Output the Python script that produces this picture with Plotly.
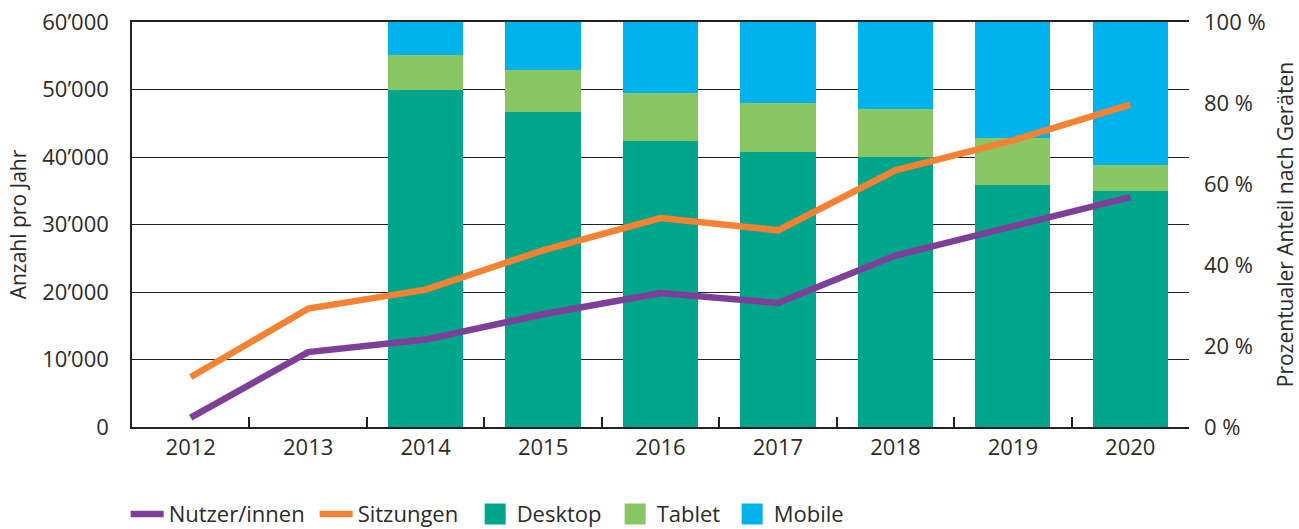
import plotly.graph_objects as go

years = ["2012", "2013", "2014", "2015", "2016", "2017", "2018", "2019", "2020"]
bar_years = ["2014", "2015", "2016", "2017", "2018", "2019", "2020"]
desktop = [83.2, 77.9, 70.5, 67.8, 66.7, 59.7, 58.2]
tablet = [8.6, 10.2, 11.9, 12.1, 11.8, 11.7, 6.4]
mobile = [8.2, 11.9, 17.6, 20.1, 21.5, 28.6, 35.4]
nutzer = [1400, 11100, 12950, 16700, 19850, 18370, 25400, 29630, 34070]
sitzungen = [7400, 17540, 20350, 26180, 30960, 29140, 38030, 42470, 47760]

left_ticks = [0, 10000, 20000, 30000, 40000, 50000, 60000]
left_text = ["0", "10’000", "20’000", "30’000", "40’000", "50’000", "60’000"]
right_ticks = [0, 20, 40, 60, 80, 100]
right_text = ["0 %", "20 %", "40 %", "60 %", "80 %", "100 %"]

FONT = "Open Sans, sans-serif"
TXT = "#2b2b2b"
GRID = "#222222"
FS = 22

C_NUTZER = "#7E3F98"
C_SITZ = "#F58233"
C_DESK = "#00A68C"
C_TAB = "#89C765"
C_MOB = "#00B2EC"

fig = go.Figure()
fig.add_trace(go.Scatter(x=years, y=nutzer, name="Nutzer/innen", mode="lines", legendwidth=141,
                         line=dict(color=C_NUTZER, width=6.5), yaxis="y2"))
fig.add_trace(go.Scatter(x=years, y=sitzungen, name="Sitzungen", mode="lines", legendwidth=111,
                         line=dict(color=C_SITZ, width=6.5), yaxis="y2"))
legend_widths = {"Desktop": 92, "Tablet": 69, "Mobile": 75}
for name, vals, col in [("Desktop", desktop, C_DESK), ("Tablet", tablet, C_TAB), ("Mobile", mobile, C_MOB)]:
    fig.add_trace(go.Bar(x=bar_years, y=vals, name=name, legendgroup=name, showlegend=False,
                         marker=dict(color=col, line=dict(width=0))))
    # legend entry with a larger square swatch
    fig.add_trace(go.Scatter(x=[None], y=[None], mode="markers", name=name, legendgroup=name,
                             legendwidth=legend_widths[name],
                             marker=dict(symbol="square", size=16, color=col, line=dict(color=col, width=5))))

fig.update_layout(
    width=1299, height=529,
    margin=dict(l=132, r=110, t=22, b=102, autoexpand=False),
    paper_bgcolor="white", plot_bgcolor="white",
    barmode="stack", bargap=0.36,
    font=dict(family=FONT, size=FS, color=TXT),
    showlegend=True,
    legend=dict(orientation="h", x=-0.006, xanchor="left", y=-0.215, yanchor="middle",
                font=dict(size=22, color=TXT), traceorder="normal",
                itemwidth=33, tracegroupgap=0),
    xaxis=dict(type="category", categoryorder="array", categoryarray=years,
               range=[-0.5, 8.5], showline=True, mirror=True, linecolor=GRID, linewidth=1.5,
               ticks="inside", tickson="boundaries", ticklen=10, tickcolor=GRID, tickwidth=1.5,
               showgrid=False, automargin=False, tickfont=dict(size=FS, color=TXT), ticklabelstandoff=0),
    yaxis=dict(range=[0, 100], side="right", tickvals=right_ticks, ticktext=right_text,
               showgrid=False, zeroline=False, automargin=False,
               showline=False, ticks="", tickfont=dict(size=FS, color=TXT),
               ticklabelstandoff=14,
               title=dict(text="Prozentualer Anteil nach Geräten", font=dict(size=21, color=TXT), standoff=16)),
    yaxis2=dict(range=[0, 60000], side="left", overlaying="y", tickvals=left_ticks, ticktext=left_text,
                showgrid=True, gridcolor=GRID, gridwidth=1.2, zeroline=False,
                showline=True, linecolor=GRID, linewidth=1.5,
                automargin=False, ticks="", tickfont=dict(size=FS, color=TXT), ticklabelstandoff=17,
                title=dict(text="Anzahl pro Jahr", font=dict(size=21, color=TXT), standoff=10)),
)

fig.write_html("out.html", config={"displayModeBar": False},
               post_script="document.body.style.margin='0';document.body.style.overflow='hidden';")
